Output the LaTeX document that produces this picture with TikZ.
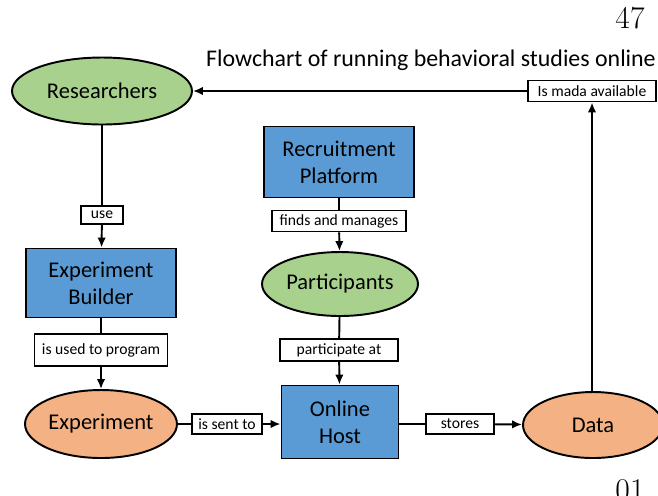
\documentclass[tikz,border=0pt]{standalone}
\usepackage{fontspec}
\setmainfont{Carlito}
\newfontfamily\seitenfont{Latin Modern Roman}
\usetikzlibrary{positioning, arrows.meta, shapes.geometric}
\definecolor{gruen}{HTML}{A9D18E}
\definecolor{blau}{HTML}{5B9BD5}
\definecolor{orange}{HTML}{F4B183}
\tikzset{
    teil/.style    = {draw, line width=1.1pt, align=center, inner sep=0pt,
                      font=\fontsize{12.8}{15.5}\selectfont},
    akteur/.style  = {teil, ellipse, fill=gruen},
    werkzeug/.style= {teil, rectangle, fill=blau},
    produkt/.style = {teil, ellipse, fill=orange},
    schild/.style  = {draw, line width=1.1pt, fill=white, inner sep=0pt,
                      font=\fontsize{8.9}{10}\selectfont},
    linie/.style   = {line width=1.1pt},
    pfeil/.style   = {linie, -{Latex[length=2mm, width=1.7mm]}}
}

\begin{document}
\begin{tikzpicture}[x=0.02cm, y=-0.02cm]
    \clip (0,0) rectangle (658,495);

    % --- Kopf ---
    \node[font=\seitenfont\fontsize{18}{20}\selectfont, anchor=base] (seite) at (630,28) {47};
    \node[font=\fontsize{13.6}{15}\selectfont] (titel) at (431,60) {Flowchart of running behavioral studies online};

    % --- linke Spalte ---
    \node[akteur, minimum width=3.6cm, minimum height=1.34cm] (forscher) at (102,91) {Researchers};
    \node[schild, minimum width=0.84cm, minimum height=0.36cm] (s1) at (102,215) {use};
    \node[werkzeug, minimum width=3cm, minimum height=1.38cm] (builder) at (101,283) {Experiment\\Builder};
    \node[schild, minimum width=2.66cm, minimum height=0.64cm] (s2) at (101,350) {is used to program};
    \node[produkt, minimum width=3.04cm, minimum height=1.36cm] (experiment) at (101,424) {Experiment};

    \draw[linie] (forscher) -- (s1);
    \draw[pfeil] (s1) -- (builder);
    \draw[linie] (builder) -- (s2);
    \draw[pfeil] (s2) -- (experiment);

    % --- mittlere Spalte ---
    \node[werkzeug, minimum width=3cm, minimum height=1.42cm] (plattform) at (339,162) {Recruitment\\Platform};
    \node[schild, minimum width=2.68cm, minimum height=0.42cm] (s3) at (339,221) {finds and manages};
    \node[akteur, minimum width=3.12cm, minimum height=1.28cm] (teilnehmer) at (340,284) {Participants};
    \node[schild, minimum width=2.36cm, minimum height=0.44cm] (s4) at (339,350) {participate at};
    \node[werkzeug, minimum width=2.34cm, minimum height=1.46cm] (host) at (340,422) {Online\\Host};

    \draw[linie] (plattform) -- (s3);
    \draw[pfeil] (s3) -- (teilnehmer);
    \draw[linie] (teilnehmer) -- (s4);
    \draw[pfeil] (s4) -- (host);

    % --- untere Reihe und Rueckweg ---
    \node[schild, minimum width=1.4cm, minimum height=0.4cm] (s5) at (227,424) {is sent to};
    \node[schild, minimum width=1.36cm, minimum height=0.4cm] (s6) at (460,424) {stores};
    \node[produkt, minimum width=2.8cm, minimum height=1.32cm] (daten) at (593,425) {Data};
    \node[schild, minimum width=2.56cm, minimum height=0.42cm] (s7) at (592,91) {Is mada available};

    \draw[linie] (experiment) -- (s5);
    \draw[pfeil] (s5) -- (host.west |- s5);
    \draw[linie] (host.east |- s6) -- (s6);
    \draw[pfeil] (s6) -- (daten);
    \draw[pfeil] (daten.north -| s7) -- (s7);
    \draw[pfeil] (s7) -- (forscher);

    % --- Fuss ---
    \node[font=\seitenfont\fontsize{18}{20}\selectfont, anchor=base] (seite2) at (630,500) {01};
\end{tikzpicture}
\end{document}
